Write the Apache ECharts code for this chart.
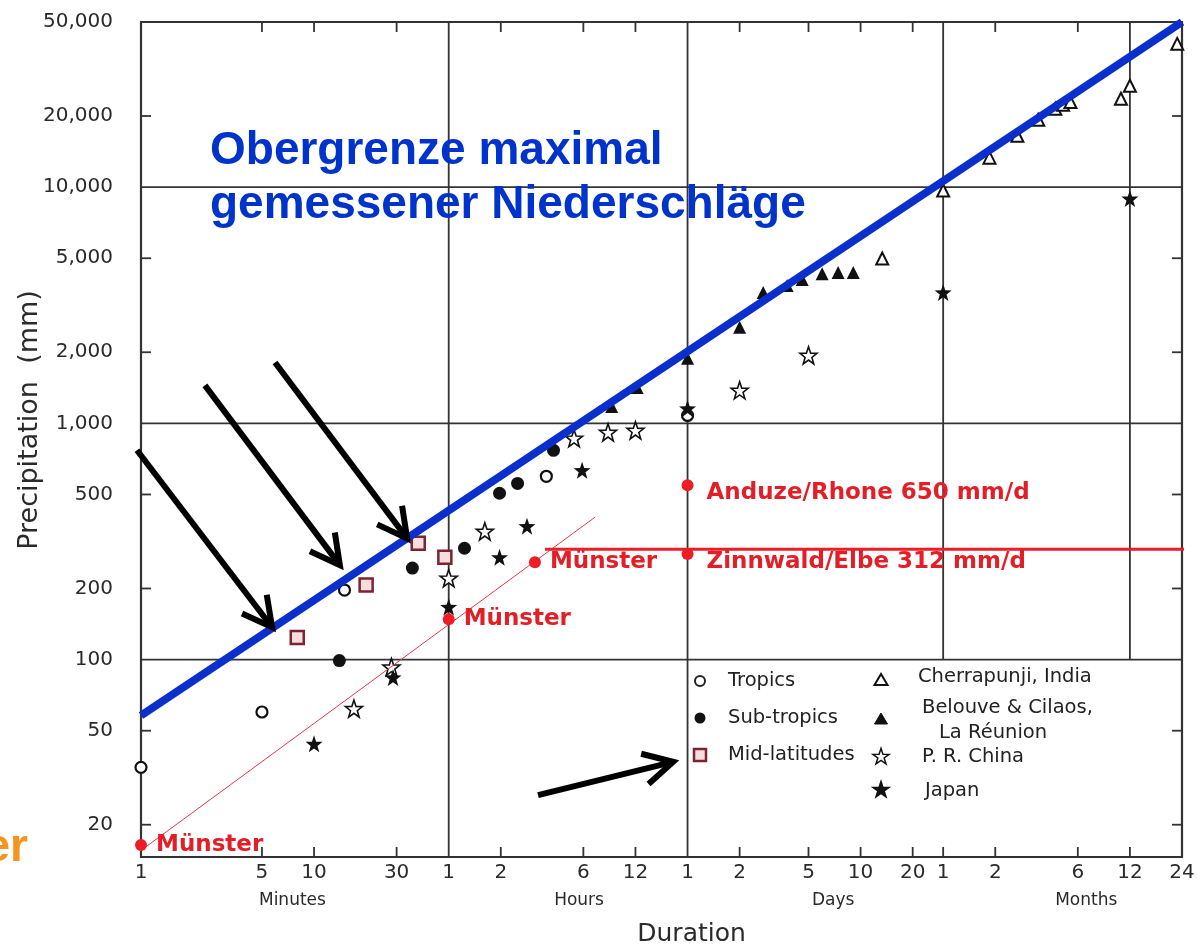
<!DOCTYPE html>
<html><head><meta charset="utf-8">
<script src="https://cdn.jsdelivr.net/npm/echarts@6/dist/echarts.min.js"></script>
<style>html,body{margin:0;padding:0;background:#fff}#c{width:1198px;height:945px}</style>
</head><body><div id="c"></div>
<script>
// ---- axis ticks (x in minutes, y in mm) ----
const xTickValues = [1,5,10,30,60,120,360,720,1440,2880,7200,14400,28800,43200,86400,259200,518400,1036800];
const xTickLabels = ['1','5','10','30','1','2','6','12','1','2','5','10','20','1','2','6','12','24'];
const unitLabels = ['Minutes','Hours','Days','Months'];
const unitPositions = [7.5, 340, 10000, 290000];
const yTickValues = [20,50,100,200,500,1000,2000,5000,10000,20000,50000];
const yTickLabels = ['20','50','100','200','500','1,000','2,000','5,000','10,000','20,000','50,000'];
const xGridFull = [60,1440];
const xGridUpper = [43200,518400];
const yGrid = [100,1000,10000];

// ---- data: [duration in minutes, precipitation in mm] ----
const tropics = [[1,35],[5,60],[15,197],[220,597],[1440,1080]];
const subTropics = [[14,99],[37,244],[74,296],[118,506],[150,557],[242,769]];
const midLatitudes = [[8,124],[20,207],[40,311],[57,271]];
const cherrapunji = [[19200,4990],[43200,9670],[80000,13330],[116000,16510],[153000,19280],[192000,21480],[213000,22300],[235000,22900],[460000,23660],[518400,26850],[973000,40400]];
const belouve = [[525,1180],[736,1420],[1440,1885],[2880,2550],[3940,3580],[5420,3830],[6620,4060],[8630,4300],[10680,4350],[13060,4350]];
const china = [[17,62],[28,93],[60,221],[97,349],[318,865],[500,916],[720,934],[2880,1380],[7200,1940]];
const japan = [[10,44],[28.6,84],[60,167],[118,271],[170,367],[354,633],[1440,1157],[43200,3580],[518400,8940]];

const envelopeLine = [[1,58],[1036800,50000]];
const munsterTrend = [[0.81,13.9],[421,401]];
const zinnwaldLevel = [[216,293],[1290000,293]];
const redPoints = [[1,16.4],[60,148],[189,258],[1440,547],[1440,280]];
const redLabels = ['Münster','Münster','Münster','Anduze/Rhone 650 mm/d','Zinnwald/Elbe 312 mm/d'];

const arrowStarts = [[0.948,769],[2.34,1448],[5.95,1811],[197,26.7]];
const arrowEnds = [[5.72,137],[14.1,251],[34.5,326],[1189,36.9]];

const legendLeft = ['Tropics','Sub-tropics','Mid-latitudes'];
const legendRight = ['Cherrapunji, India','Belouve & Cilaos,','La Réunion','P. R. China','Japan'];

const titleLines = ['Obergrenze maximal','gemessener Niederschläge'];

const xMin = 1, xMax = 1036800, yMin = 14.6, yMax = 50000;
const STAR = 'path://M50,0L61.8,33.8L97.6,34.5L69,56.2L79.4,90.5L50,70L20.6,90.5L31,56.2L2.4,34.5L38.2,33.8Z';
const RED = '#e41e26';
const INK = '#222';
const FONT = '"DejaVu Sans", Verdana, sans-serif';

const chart = echarts.init(document.getElementById('c'), null, {renderer:'canvas'});

function sc(name, data, symbol, size, style, z){
  return {type:'scatter', name, data, symbol, symbolSize:size, itemStyle:Object.assign({opacity:1}, style), z:z||4, silent:true, animation:false};
}

chart.setOption({
  animation:false,
  backgroundColor:'#fff',
  grid:{left:141, right:16, top:22, bottom:88},
  xAxis:{type:'log', logBase:10, min:xMin, max:xMax, axisLine:{show:false}, axisTick:{show:false}, axisLabel:{show:false}, splitLine:{show:false}},
  yAxis:{type:'log', logBase:10, min:yMin, max:yMax, axisLine:{show:false}, axisTick:{show:false}, axisLabel:{show:false}, splitLine:{show:false}},
  series:[
    sc('Tropics', tropics, 'circle', 11, {color:'#fff', borderColor:'#111', borderWidth:2.2}),
    sc('Sub-tropics', subTropics, 'circle', 13, {color:'#111'}),
    sc('Mid-latitudes', midLatitudes, 'rect', 13, {color:'#f4dede', borderColor:'#7d2230', borderWidth:2.5}),
    sc('Cherrapunji, India', cherrapunji, 'triangle', 12, {color:'#fff', borderColor:'#111', borderWidth:2}),
    sc('Belouve & Cilaos, La Réunion', belouve, 'triangle', 13, {color:'#111'}),
    sc('P. R. China', china, STAR, 17, {color:'#fff', borderColor:'#111', borderWidth:1.6}),
    sc('Japan', japan, STAR, 17, {color:'#111'}),
    {type:'line', data:munsterTrend, symbol:'none', clip:false, lineStyle:{color:'#e23a4a', width:1}, z:5, silent:true},
    {type:'line', data:zinnwaldLevel, symbol:'none', clip:false, lineStyle:{color:'#ee1c25', width:3}, z:5, silent:true},
    {type:'line', data:envelopeLine, symbol:'none', clip:false, lineStyle:{color:'#0a2fcc', width:8}, z:6, silent:true},
    {type:'scatter', data:redPoints.map((p,i)=>({value:p, name:redLabels[i],
        label:(i>=3?{offset:[4,8]}:{})})), symbol:'circle', symbolSize:12,
     itemStyle:{color:'#ee1c25', opacity:1}, z:7, silent:true,
     label:{show:true, position:'right', distance:9, formatter:p=>p.name, color:RED, fontFamily:FONT, fontWeight:'bold', fontSize:23}}
  ]
});

const px = (x,y) => chart.convertToPixel({gridIndex:0},[x,y]);
const [L,B] = px(xMin,yMin);
const [R,T] = px(xMax,yMax);
const g = [];
const ls = {stroke:'#333', lineWidth:1.8};
function line(x1,y1,x2,y2,style,z){ g.push({type:'line', shape:{x1,y1,x2,y2}, style:Object.assign({}, style||ls), z:z||1, silent:true}); }
function text(t,x,y,font,fill,align,valign,extra){
  g.push(Object.assign({type:'text', x, y, z:20, silent:true,
    style:{text:t, font, fill, align:align, verticalAlign:valign, textAlign:align, textVerticalAlign:valign}}, extra||{}));
}
// frame
g.push({type:'rect', shape:{x:L,y:T,width:R-L,height:B-T}, style:{fill:null, stroke:'#333', lineWidth:2.2}, z:1, silent:true});
// horizontal grid
yGrid.forEach(v=>{ const y=px(1,v)[1]; line(L,y,R,y); });
// vertical grid
xGridFull.forEach(v=>{ const x=px(v,100)[0]; line(x,T,x,B); });
xGridUpper.forEach(v=>{ const x=px(v,100)[0]; line(x,T,x,px(v,100)[1]); });
// x ticks and labels
xTickValues.forEach((v,i)=>{
  const x=px(v,100)[0];
  const inner = i>0 && i<xTickValues.length-1;
  if(inner && xGridFull.indexOf(v)<0) line(x,B,x,B-10);
  if(inner && xGridFull.indexOf(v)<0 && xGridUpper.indexOf(v)<0) line(x,T,x,T+10);
  text(xTickLabels[i], x, B+16, '20px '+FONT, '#2a2a2a', 'center', 'middle');
});
unitLabels.forEach((t,i)=>{ text(t, px(unitPositions[i],100)[0], B+44, '17px '+FONT, '#2a2a2a', 'center', 'middle'); });
text('Duration', px(1440,100)[0]+4, B+77, '25px '+FONT, '#2a2a2a', 'center', 'middle');
// y ticks and labels
yTickValues.forEach((v,i)=>{
  const y=px(1,v)[1];
  if(yGrid.indexOf(v)<0 && v!==yMax){ line(L,y,L+10,y); line(R,y,R-10,y); }
  text(yTickLabels[i], L-28, y, '20px '+FONT, '#2a2a2a', 'right', 'middle');
});
text('Precipitation  (mm)', 30, 420, '27px '+FONT, '#2a2a2a', 'center', 'middle', {rotation:Math.PI/2});
// legend
const legX1 = 700, legT1 = 728, legX2 = 881;
const legYs = [681, 718, 755];
g.push({type:'circle', shape:{cx:legX1, cy:legYs[0], r:5}, style:{fill:'#fff', stroke:'#222', lineWidth:2}, z:20, silent:true});
g.push({type:'circle', shape:{cx:legX1, cy:legYs[1], r:5.5}, style:{fill:'#111'}, z:20, silent:true});
g.push({type:'rect', shape:{x:legX1-6, y:legYs[2]-6, width:12, height:12}, style:{fill:'#f4dede', stroke:'#7d2230', lineWidth:2.5}, z:20, silent:true});
legendLeft.forEach((t,i)=> text(t, legT1, legYs[i], '19.5px '+FONT, INK, 'left', 'middle'));
function tri(cx,cy,filled){ g.push({type:'polygon', shape:{points:[[cx,cy-6],[cx+6.5,cy+5],[cx-6.5,cy+5]]}, style:{fill:filled?'#111':'#fff', stroke:'#111', lineWidth:filled?1:2}, z:20, silent:true}); }
function star(cx,cy,filled){
  const pts=[]; for(let k=0;k<10;k++){ const a=-Math.PI/2+k*Math.PI/5; const r=k%2?3.3:8.5; pts.push([cx+r*Math.cos(a), cy+r*Math.sin(a)]); }
  g.push({type:'polygon', shape:{points:pts}, style:{fill:filled?'#111':'#fff', stroke:'#111', lineWidth:1.5}, z:20, silent:true});
}
tri(legX2, 680, false); tri(legX2, 719, true); star(legX2, 757, false); star(legX2, 790, true);
text(legendRight[0], 918, 677, '19.5px '+FONT, INK, 'left', 'middle');
text(legendRight[1], 922, 708, '19.5px '+FONT, INK, 'left', 'middle');
text(legendRight[2], 939, 733, '19.5px '+FONT, INK, 'left', 'middle');
text(legendRight[3], 922, 757, '19.5px '+FONT, INK, 'left', 'middle');
text(legendRight[4], 925, 791, '19.5px '+FONT, INK, 'left', 'middle');
// blue title
text(titleLines[0], 210, 151, 'bold 46px "Liberation Sans", Arial, sans-serif', '#0033cc', 'left', 'middle');
text(titleLines[1], 210, 205, 'bold 46px "Liberation Sans", Arial, sans-serif', '#0033cc', 'left', 'middle');
// orange cut-off text
text('er', 28, 848, 'bold 46px "Liberation Sans", Arial, sans-serif', '#f7941d', 'right', 'middle');
// arrows
arrowStarts.forEach((s,i)=>{
  const p0=px(s[0],s[1]), p1=px(arrowEnds[i][0],arrowEnds[i][1]);
  const st={stroke:'#000', lineWidth:6, lineCap:'butt', lineJoin:'miter'};
  g.push({type:'line', shape:{x1:p0[0],y1:p0[1],x2:p1[0],y2:p1[1]}, style:st, z:30, silent:true});
  const ang=Math.atan2(p0[1]-p1[1], p0[0]-p1[0]);
  const a1=ang+0.49, a2=ang-0.49, len=33;
  g.push({type:'polyline', shape:{points:[[p1[0]+len*Math.cos(a1), p1[1]+len*Math.sin(a1)],[p1[0],p1[1]],[p1[0]+len*Math.cos(a2), p1[1]+len*Math.sin(a2)]]}, style:st, z:30, silent:true});
});
chart.setOption({graphic:{elements:g}});
</script>
</body></html>
